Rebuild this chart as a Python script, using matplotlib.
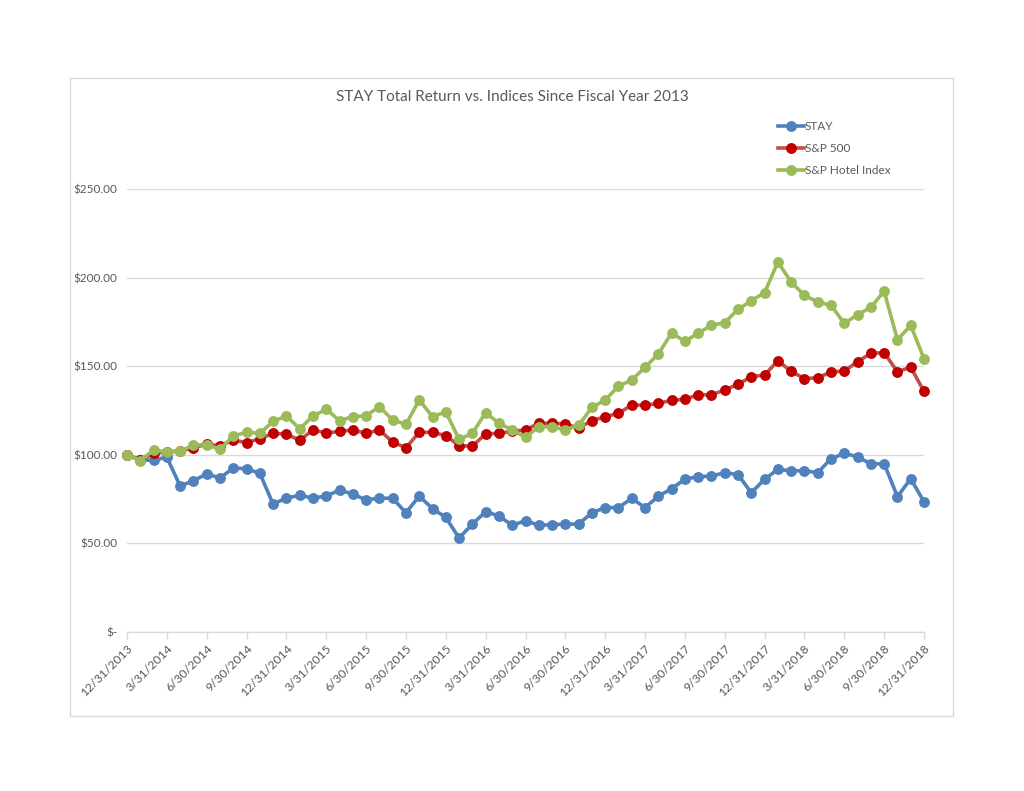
import matplotlib
matplotlib.use("Agg")
import matplotlib.pyplot as plt
from matplotlib.patches import Rectangle
from matplotlib.lines import Line2D

plt.rcParams['font.family'] = ['Lato', 'DejaVu Sans']

stay = [100.0, 97.0, 97.0, 98.6, 82.4, 85.4, 89.2, 86.9, 92.5, 92.2, 89.5, 72.2, 75.6, 77.1, 75.6,
        76.7, 80.1, 77.8, 74.5, 75.6, 75.4, 67.3, 76.7, 69.6, 64.7, 53.0, 60.9, 67.9, 65.5, 60.2,
        62.8, 60.2, 60.6, 60.9, 60.9, 67.3, 70.2, 70.2, 75.4, 70.2, 76.6, 80.9, 86.2, 87.7, 88.0,
        89.9, 88.8, 78.6, 86.2, 91.8, 91.0, 91.0, 89.9, 97.8, 100.8, 98.9, 94.8, 95.0, 76.4, 86.5,
        73.5]
sp500 = [100.0, 97.0, 100.8, 101.7, 102.0, 104.0, 106.0, 105.0, 108.4, 106.8, 109.1, 112.1, 111.7, 108.2, 114.0,
         112.3, 113.2, 114.0, 112.1, 114.0, 107.2, 104.0, 112.7, 112.7, 110.8, 105.2, 104.8, 111.9, 112.1, 113.4,
         114.0, 117.8, 117.8, 117.4, 115.1, 119.3, 121.5, 123.4, 128.1, 128.0, 129.0, 130.8, 131.3, 133.9, 133.9,
         136.6, 139.8, 144.1, 145.0, 153.1, 147.1, 143.0, 143.5, 146.7, 147.3, 152.5, 157.3, 157.6, 146.9, 149.4,
         135.8]
hotel = [100.0, 96.7, 102.7, 101.6, 102.0, 105.5, 105.7, 103.1, 110.6, 112.7, 112.1, 118.9, 121.9, 114.7, 121.9,
         125.7, 119.3, 121.5, 122.1, 127.2, 119.6, 117.2, 130.9, 121.5, 124.3, 108.7, 112.1, 123.8, 117.8, 114.0,
         109.8, 115.9, 115.9, 114.0, 116.6, 126.8, 130.9, 138.8, 142.2, 149.4, 156.9, 168.7, 164.0, 168.6, 173.1,
         174.6, 182.1, 187.0, 191.5, 208.8, 197.5, 190.0, 186.2, 184.4, 174.2, 179.1, 183.2, 192.3, 164.8, 173.1,
         154.2]
tick_labels = ["12/31/2013", "3/31/2014", "6/30/2014", "9/30/2014", "12/31/2014", "3/31/2015",
               "6/30/2015", "9/30/2015", "12/31/2015", "3/31/2016", "6/30/2016", "9/30/2016",
               "12/31/2016", "3/31/2017", "6/30/2017", "9/30/2017", "12/31/2017", "3/31/2018",
               "6/30/2018", "9/30/2018", "12/31/2018"]
y_ticks = [0, 50, 100, 150, 200, 250]
y_labels = ["$-", "$50.00", "$100.00", "$150.00", "$200.00", "$250.00"]
series_names = ["STAY", "S&P 500", "S&P Hotel Index"]

W, H = 1024, 791
fig = plt.figure(figsize=(W / 100, H / 100), dpi=100)
fig.patch.set_facecolor('white')

# chart border
fig.patches.append(Rectangle((70 / W, 1 - 716 / H), 883 / W, 638 / H, transform=fig.transFigure,
                             fill=False, edgecolor='#D9D9D9', linewidth=1.0))

ax = fig.add_axes([127 / W, 1 - 632 / H, (924 - 127) / W, (632 - 189) / H])
x = list(range(len(stay)))

styles = [
    dict(color='#4F81BD', mfc='#4F81BD', mec='#4F81BD'),
    dict(color='#C0504D', mfc='#C00000', mec='#C00000'),
    dict(color='#9BBB59', mfc='#9BBB59', mec='#9BBB59'),
]
handles = []
for data, st, name in zip([stay, sp500, hotel], styles, series_names):
    ax.plot(x, data, color=st['color'], linewidth=2.6, marker='o', markersize=6.8,
            markerfacecolor=st['mfc'], markeredgecolor=st['mec'], solid_joinstyle='round',
            zorder=3, clip_on=False)
    handles.append(Line2D([0], [0], color=st['color'], linewidth=2.6, marker='o', markersize=6.8,
                          markerfacecolor=st['mfc'], markeredgecolor=st['mec']))

ax.set_xlim(0, len(stay) - 1)
ax.set_ylim(0, 250)
ax.set_yticks(y_ticks)
ax.set_yticklabels(y_labels)
ax.set_xticks(list(range(0, len(stay), 3)))
ax.set_xticklabels(tick_labels, rotation=45, ha='right', rotation_mode='anchor')

for s in ['top', 'right', 'left']:
    ax.spines[s].set_visible(False)
ax.spines['bottom'].set_color('#D9D9D9')
ax.spines['bottom'].set_linewidth(1.0)
ax.grid(axis='y', color='#D9D9D9', linewidth=1.0, zorder=0)
ax.set_axisbelow(True)
ax.tick_params(axis='y', length=0, pad=7, labelsize=8.5, labelcolor='#595959')
ax.tick_params(axis='x', length=5, width=1.0, color='#D9D9D9', direction='out', pad=3,
               labelsize=8.8, labelcolor='#595959')

fig.text(512 / W, 1 - 97 / H, "STAY Total Return vs. Indices Since Fiscal Year 2013",
         ha='center', va='center', fontsize=11, color='#595959')

leg = fig.legend(handles, series_names, loc='upper left', bbox_to_anchor=(772 / W, 1 - 115 / H),
                 frameon=False, fontsize=8.5, labelcolor='#595959', handlelength=2.2,
                 handletextpad=0.1, labelspacing=0.95, borderpad=0)

fig.savefig("out.png", dpi=100, facecolor='white')
